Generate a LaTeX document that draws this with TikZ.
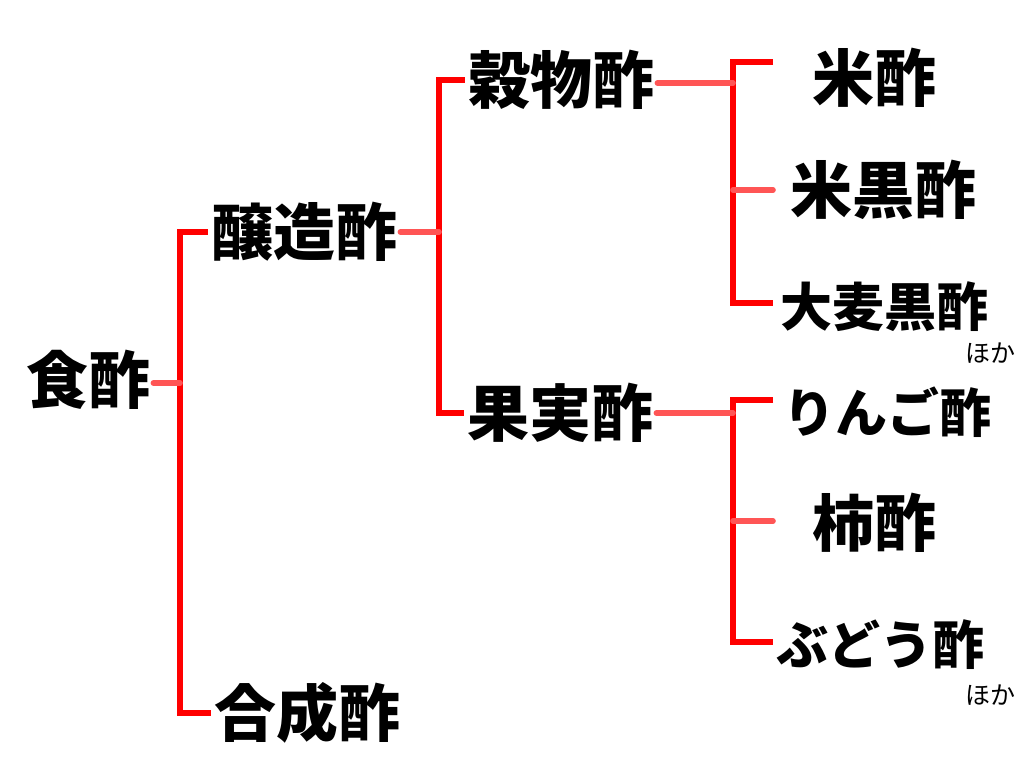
\documentclass[tikz,border=0pt]{standalone}
\usepackage{fontspec}
\newfontfamily\jp{Noto Sans CJK JP}
\usepackage{tikz}
\usetikzlibrary{calc,positioning}
\definecolor{brkred}{RGB}{255,0,0}
\definecolor{stubred}{RGB}{255,85,85}

\begin{document}
\begin{tikzpicture}[x=0.5pt,y=-0.5pt]
\tikzstyle{word}=[inner sep=1.5pt, font=\jp\bfseries\fontsize{31pt}{31pt}\selectfont]
\tikzstyle{small word}=[word, font=\jp\bfseries\fontsize{26pt}{26pt}\selectfont]
\tikzstyle{note}=[inner sep=0pt, font=\jp\fontsize{12.5pt}{12.5pt}\selectfont]
\tikzstyle{brk}=[draw=brkred, line width=3pt]
\tikzstyle{stub}=[draw=stubred, line width=2.8pt, line cap=round]
\useasboundingbox[fill=white] (0,0) rectangle (1024,768);

\node[word] (shoku) at (88,380) {食酢};
\node[word] (jozo) at (304,232) {醸造酢};
\node[word] (gosei) at (307,713) {合成酢};
\node[word] (kokumotsu) at (561,80) {穀物酢};
\node[word] (kajitsu) at (560,413) {果実酢};
\node[word] (kome) at (874,78) {米酢};
\node[word] (komekuro) at (883,190) {米黒酢};
\node[small word] (omugi) at (884,307) {大麦黒酢};
\node[note] (hoka1) at (990,353) {ほか};
\node[small word] (ringo) at (887,412) {りんご酢};
\node[word] (kaki) at (874,523) {柿酢};
\node[small word] (budo) at (880,645) {ぶどう酢};
\node[note] (hoka2) at (990,695) {ほか};

% spines
\coordinate (c1) at (180,383);
\coordinate (c2) at (439,232);
\coordinate (c3) at (733,83);
\coordinate (c4) at (733,413);
% free ends of the right brackets
\coordinate (e3a) at (773,62);
\coordinate (e3b) at (773,190);
\coordinate (e3c) at (773,303);
\coordinate (e4a) at (773,400);
\coordinate (e4b) at (773,521);
\coordinate (e4c) at (773,642);

\draw[brk] (jozo.west) -| (c1) |- (gosei.west);
\draw[brk] (kokumotsu.west) -| (c2) |- (kajitsu.west);
\draw[brk] (e3a) -| (c3) |- (e3c);
\draw[brk] (e4a) -| (c4) |- (e4c);

\draw[stub] (shoku.east |- c1) -- (c1);
\draw[stub] (jozo.east |- c2) -- (c2);
\draw[stub] (kokumotsu.east |- c3) -- (c3);
\draw[stub] (kajitsu.east |- c4) -- (c4);
\draw[stub] (c3 |- e3b) -- (e3b);
\draw[stub] (c4 |- e4b) -- (e4b);
\end{tikzpicture}
\end{document}
